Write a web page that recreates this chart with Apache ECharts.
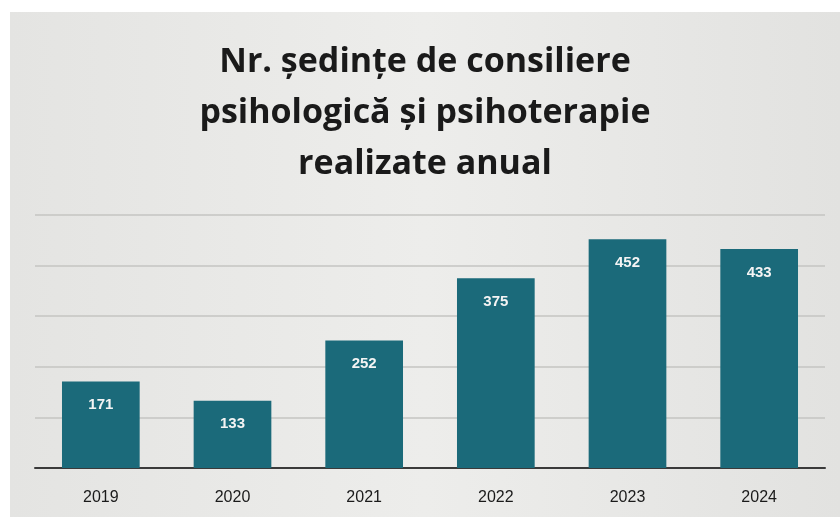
<!DOCTYPE html>
<html>
<head>
<meta charset="utf-8">
<script src="https://cdn.jsdelivr.net/npm/echarts@6/dist/echarts.min.js"></script>
<style>
  html, body { margin: 0; padding: 0; background: #ffffff; }
  #chart { position: absolute; left: 10px; top: 12px; width: 830px; height: 505px; }
</style>
</head>
<body>
<div id="chart"></div>
<script>
var years = ['2019', '2020', '2021', '2022', '2023', '2024'];
var sessions = [171, 133, 252, 375, 452, 433];

var myChart = echarts.init(document.getElementById('chart'));
var option = {
    backgroundColor: {
        type: 'linear', x: 0, y: 0, x2: 1, y2: 0,
        colorStops: [
            { offset: 0, color: '#e4e4e2' },
            { offset: 0.5, color: '#ededeb' },
            { offset: 1, color: '#e2e2e0' }
        ]
    },
    title: {
        text: 'Nr. ședințe de consiliere\npsihologică și psihoterapie\nrealizate anual',
        left: 'center',
        top: 20,
        textStyle: {
            fontFamily: 'Open Sans',
            fontWeight: 'bold',
            fontSize: 34,
            lineHeight: 51,
            color: '#1a1a1a'
        }
    },
    grid: {
        left: 25,
        right: 15,
        top: 203,
        bottom: 49
    },
    xAxis: {
        type: 'category',
        data: years,
        axisTick: { show: false },
        axisLine: { lineStyle: { color: '#3a3a3a', width: 2 } },
        axisLabel: {
            color: '#1a1a1a',
            fontSize: 16,
            fontFamily: 'Liberation Sans',
            margin: 22
        }
    },
    yAxis: {
        type: 'value',
        min: 0,
        max: 500,
        interval: 100,
        axisLabel: { show: false },
        axisLine: { show: false },
        axisTick: { show: false },
        splitLine: { lineStyle: { color: '#c4c4c2', width: 1.5 } }
    },
    series: [
        {
            name: 'Ședințe',
            type: 'bar',
            data: sessions,
            barWidth: '59%',
            itemStyle: { color: '#1b6a7a' },
            label: {
                show: true,
                position: 'insideTop',
                distance: 16,
                color: '#f4f4f4',
                fontSize: 15,
                fontWeight: 'bold',
                fontFamily: 'Liberation Sans'
            }
        }
    ]
};
myChart.setOption(option);
</script>
</body>
</html>
